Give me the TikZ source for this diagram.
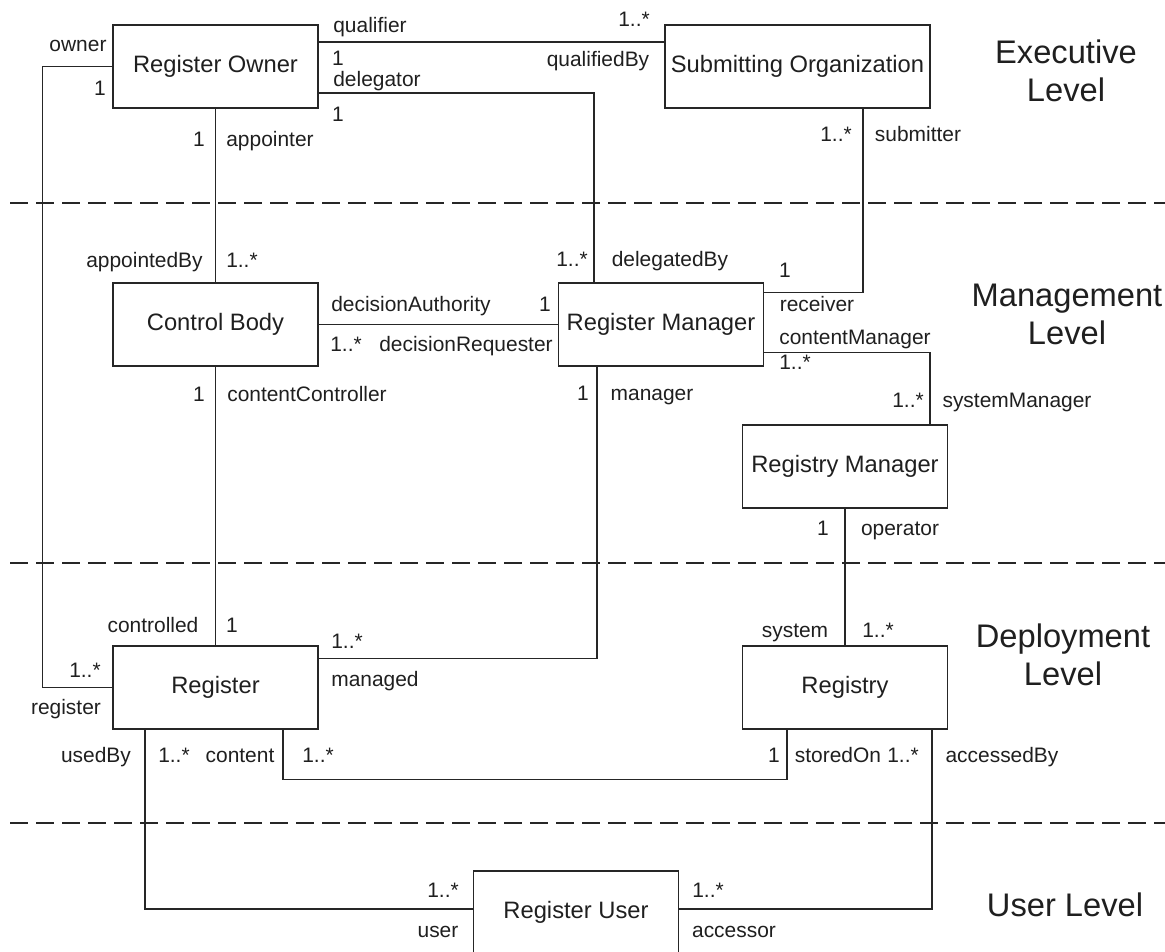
\documentclass[tikz,border=0pt]{standalone}
\usepackage{fontspec}
\setmainfont{Liberation Sans}
\usetikzlibrary{positioning,calc}
\colorlet{colorLine}{black!85}
\colorlet{colorText}{black!88}
\tikzset{
   cls/.style={draw=colorLine,line width=1.1pt,minimum width=153.75pt,minimum height=62.25pt,inner sep=0pt,text=colorText,font=\fontsize{17.8pt}{21pt}\selectfont},
   assoc/.style={-,color=colorLine,line width=1pt},
   lbl/.style={anchor=base,inner sep=0pt,text=colorText,font=\fontsize{15.7pt}{18pt}\selectfont},
   lvl/.style={align=center,inner sep=0pt,text=colorText,font=\fontsize{24.5pt}{28.5pt}\selectfont},
   sep/.style={-,color=colorLine,dash pattern=on 13.5pt off 6pt,line width=1.5pt},
}

\begin{document}
\begin{tikzpicture}[x=0.75pt,y=-0.75pt]
      \useasboundingbox (0,0) rectangle (1165,952);

      % classes
      \node (ro) [cls] at (215.5,66.5) {Register Owner};

      \node (so) [cls, minimum width=198.75pt, right of = ro, node distance = 436.5pt]
        % at (797.5,66.5)
        {Submitting Organization};

      \node (cb) [cls, below of = ro, node distance = 193.5pt]
        % at (215.5,324.5)
        {Control Body};

      \node (rm) [cls, right of = cb, node distance = 334.125pt]
        % at (661,324.5)
        {Register Manager};

      \node (reg) [cls, below of = cb, node distance = 272.25pt]
        % at (215.5,687.5)
        {Register};

      \node (rgy) [cls, right of = reg, node distance = 472.125pt]
        % at (845,687.5)
        {Registry};

      \node (rgm) [cls, above of = rgy, node distance = 165.75pt]
        % at (845,466.5)
        {Registry Manager};

      \node (ru) [cls] at (576,912.5) {Register User};

      % level separators
      \draw [sep] (10,203) -- (1165,203);
      \draw [sep] (10,563) -- (1165,563);
      \draw [sep] (10,823) -- (1165,823);

      \node (exec) [lvl] at (1066,71) {Executive\\Level};
      \node (mgmt) [lvl] at (1067,314) {Management\\Level};
      \node (depl) [lvl] at (1063,655) {Deployment\\Level};
      \node (usrl) [lvl] at (1065,905) {User Level};

      % associations
      \draw [assoc] (ro.west) -- +(-70,0) |- (reg.west);
      \draw [assoc] ($(ro.east)+(0,-24.5)$) -- ($(so.west)+(0,-24.5)$);
      \draw [assoc] ($(ro.east)+(0,26.5)$) -| ($(rm.north)+(-67,0)$);
      \draw [assoc] (ro) -- (cb);
      \draw [assoc] ($(so.south)+(65.5,0)$) |- ($(rm.east)+(0,-32)$);
      \draw [assoc] (cb) -- (rm);
      \draw [assoc] (cb) -- (reg);
      \draw [assoc] ($(rm.south)+(-64,0)$) |- ($(reg.east)+(0,-29)$);
      \draw [assoc] ($(rm.east)+(0,28)$) -| ($(rgm.north)+(85,0)$);
      \draw [assoc] (rgm) -- (rgy);
      \draw [assoc] ($(reg.south)+(67.5,0)$) -- ++(0,50) -| ($(rgy.south)+(-58,0)$);
      \draw [assoc] ($(reg.south)+(-70.5,0)$) |- ($(ru.west)+(0,-3.5)$);
      \draw [assoc] ($(rgy.south)+(87,0)$) |- ($(ru.east)+(0,-3.5)$);

      % roles and multiplicities
      \node (owner) [lbl] at (78,52) {owner};
      \node (mOwner) [lbl] at (100,96) {1};
      \node (qualifier) [lbl] at (370,33) {qualifier};
      \node (mQualifier) [lbl] at (338,66) {1};
      \node (delegator) [lbl] at (377,87) {delegator};
      \node (mDelegator) [lbl] at (338,122) {1};
      \node (mQualifiedBy) [lbl] at (634,27) {1..*};
      \node (qualifiedBy) [lbl] at (598,67) {qualifiedBy};
      \node (mAppointer) [lbl] at (199,147) {1};
      \node (appointer) [lbl] at (270,147) {appointer};
      \node (mSubmitter) [lbl] at (836,142) {1..*};
      \node (submitter) [lbl] at (918,142) {submitter};

      \node (appointedBy) [lbl] at (144.5,268) {appointedBy};
      \node (mAppointedBy) [lbl] at (242,268) {1..*};
      \node (mDelegatedBy) [lbl] at (572,267) {1..*};
      \node (delegatedBy) [lbl] at (670,267) {delegatedBy};
      \node (mReceiver) [lbl] at (785,278) {1};
      \node (decisionAuthority) [lbl] at (411,312) {decisionAuthority};
      \node (mDecisionAuthority) [lbl] at (545,312) {1};
      \node (receiver) [lbl] at (817,312) {receiver};
      \node (mDecisionRequester) [lbl] at (346,352) {1..*};
      \node (decisionRequester) [lbl] at (466,352) {decisionRequester};
      \node (contentManager) [lbl] at (855,345) {contentManager};
      \node (mContentManager) [lbl] at (795,370) {1..*};
      \node (mContentController) [lbl] at (199,402) {1};
      \node (contentController) [lbl] at (307,402) {contentController};
      \node (mManager) [lbl] at (583,401) {1};
      \node (manager) [lbl] at (652,401) {manager};
      \node (mSystemManager) [lbl] at (908,408) {1..*};
      \node (systemManager) [lbl] at (1017,408) {systemManager};
      \node (mOperator) [lbl] at (823,535) {1};
      \node (operator) [lbl] at (900,535) {operator};

      \node (controlled) [lbl] at (153,632) {controlled};
      \node (mControlled) [lbl] at (232,632) {1};
      \node (system) [lbl] at (795,637) {system};
      \node (mSystem) [lbl] at (878,637) {1..*};
      \node (mManaged) [lbl] at (347,648) {1..*};
      \node (mRegister) [lbl] at (85,677) {1..*};
      \node (managed) [lbl] at (375,686) {managed};
      \node (register) [lbl] at (66,714) {register};
      \node (usedBy) [lbl] at (96,762) {usedBy};
      \node (mUsedBy) [lbl] at (174,762) {1..*};
      \node (content) [lbl] at (240,762) {content};
      \node (mContent) [lbl] at (318,762) {1..*};
      \node (mStoredOn) [lbl] at (774,762) {1};
      \node (storedOn) [lbl] at (838,762) {storedOn};
      \node (mAccessedBy) [lbl] at (903,762) {1..*};
      \node (accessedBy) [lbl] at (1002,762) {accessedBy};

      \node (mUser) [lbl] at (443,897) {1..*};
      \node (user) [lbl] at (438,937) {user};
      \node (mAccessor) [lbl] at (708,897) {1..*};
      \node (accessor) [lbl] at (734,937) {accessor};
\end{tikzpicture}
\end{document}
